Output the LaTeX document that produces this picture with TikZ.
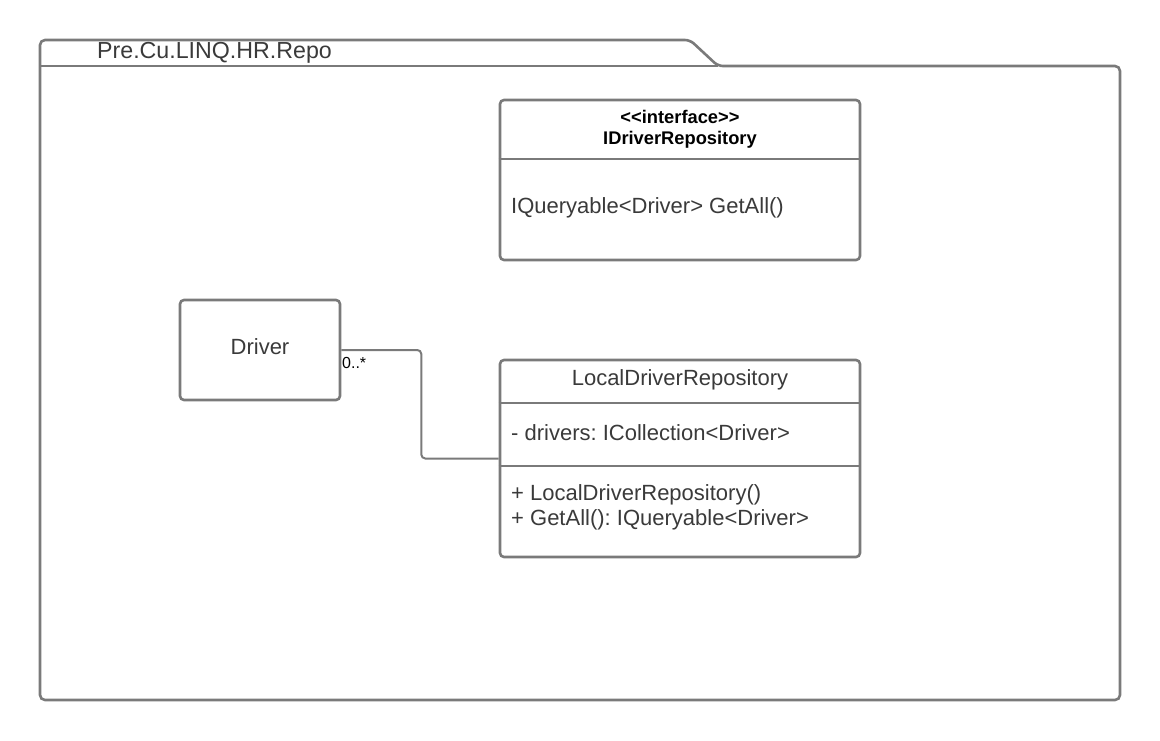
\documentclass[tikz,border=0pt]{standalone}
\usepackage{fontspec}
\setmainfont{Liberation Sans}
\usepackage{tikz}
\usetikzlibrary{calc, positioning}
\usepackage{xcolor}
\frenchspacing

\definecolor{umlline}{HTML}{7A7A7A}
\definecolor{umltext}{HTML}{3A3A3A}

\begin{document}
\begin{tikzpicture}[x=1pt, y=-1pt,
            boxline/.style={draw=umlline, line width=2.6pt},
            classbox/.style={boxline, rounded corners=4pt, inner sep=0pt},
            sepline/.style={draw=umlline, line width=2.6pt},
            txt/.style={text=umltext, font=\fontsize{22}{26}\selectfont, inner sep=0pt},
            bold/.style={text=black, font=\fontsize{18.3}{21}\selectfont\bfseries, inner sep=0pt, align=center},
            assoc/.style={draw=umlline, line width=2pt, rounded corners=4pt}]
            \useasboundingbox (0,0) rectangle (1160,740);
            % package frame with tab
            \draw[boxline, rounded corners=5pt] (40,700) -- (40,40) -- (690,40) -- (718,66) -- (1120,66) -- (1120,700) -- cycle;
            \draw[boxline] (40,66) -- (718,66);
            \node[txt, anchor=west, font=\fontsize{23.2}{27}\selectfont] (pkgname) at (97,53) {Pre.Cu.LINQ.HR.Repo};

            % interface
            \node[classbox, minimum width=360pt, minimum height=160pt] (irepo) at (680,180) {};
            \draw[sepline] (irepo.west |- 0,159) -- (irepo.east |- 0,159);
            \node[bold] (irepotitle) at (680,129) {{<}{<}interface{>}{>}\\[0pt]IDriverRepository};
            \node[txt, anchor=west] (irepoop) at (511,208) {IQueryable<Driver> GetAll()};

            % Driver
            \node[classbox, minimum width=160pt, minimum height=100pt] (driver) at (260,350) {};
            \node[txt] (drivername) at (260,347) {Driver};

            % LocalDriverRepository
            \node[classbox, minimum width=360pt, minimum height=197pt] (ldr) at (680,458.5) {};
            \draw[sepline] (ldr.west |- 0,403) -- (ldr.east |- 0,403);
            \draw[sepline] (ldr.west |- 0,466) -- (ldr.east |- 0,466);
            \node[txt] (ldrname) at (680,380) {LocalDriverRepository};
            \node[txt, anchor=west] (ldrattr) at (511,433) {- drivers: ICollection<Driver>};
            \node[txt, anchor=west] (ldrop1) at (511,495) {+ LocalDriverRepository()};
            \node[txt, anchor=west] (ldrop2) at (511,520) {+ GetAll(): IQueryable<Driver>};

            % association
            \draw[assoc] (driver.east) -- ++(80,0) |- (ldr.west);
            \node[anchor=west, inner sep=0pt, font=\fontsize{16}{19}\selectfont] (mult) at (342,363) {0..*};
\end{tikzpicture}
\end{document}
